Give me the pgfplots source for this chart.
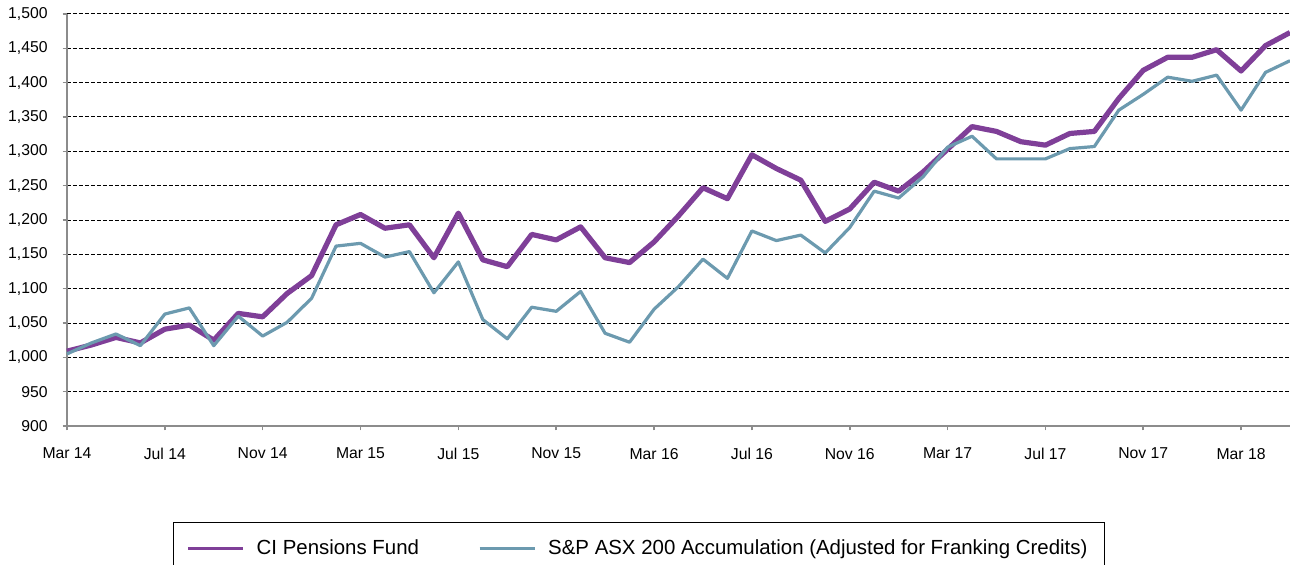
\documentclass[border=0pt]{standalone}
\usepackage{pgfplots}
\pgfplotsset{compat=1.18}
\usepackage{fontspec}
\setmainfont{Liberation Sans}
\definecolor{cipurple}{RGB}{127,63,152}
\definecolor{asxblue}{RGB}{108,154,175}
\definecolor{axisgray}{RGB}{140,140,140}
\begin{document}
\begin{tikzpicture}
\begin{axis}[
  name=ax,
  scale only axis,
  width=611.5bp, height=206bp,
  xmin=0, xmax=50, ymin=900, ymax=1500,
  axis x line*=bottom, axis y line*=left,
  axis line style={axisgray, line width=1bp},
  tick style={axisgray, line width=0.8bp},
  tick align=outside,
  major tick length=2.2bp,
  xtick={0,4,...,48},
  xticklabels={Mar 14,Jul 14,Nov 14,Mar 15,Jul 15,Nov 15,Mar 16,Jul 16,Nov 16,Mar 17,Jul 17,Nov 17,Mar 18},
  ytick={900,950,...,1500},
  /pgf/number format/assume math mode=true,
  /pgf/number format/1000 sep={,},
  yticklabel style={font=\fontsize{7.9}{9}\selectfont, xshift=-4bp},
  xticklabel style={font=\fontsize{7.9}{9}\selectfont, yshift=-5.3bp},
  ymajorgrids,
  major grid style={black, line width=0.5bp, dash pattern=on 2bp off 1bp},
  legend columns=2,
  legend style={at={(axis description cs:0.0867,-0.233)}, anchor=north west,
    draw=black, line width=0.5bp, inner xsep=6.5bp, inner ysep=6.5bp,
    font=\fontsize{10.25}{12}\selectfont,
    /tikz/every odd column/.append style={column sep=4bp},
    /tikz/every even column/.append style={column sep=27.5bp}},
  legend image code/.code={\draw[#1, line width=1.6bp] (0bp,0bp) -- (27.5bp,0bp);},
  clip=false,
]
\addplot[cipurple, line width=2.6bp, line join=round] coordinates {
(0,1009) (1,1018) (2,1029) (3,1021) (4,1041) (5,1047) (6,1025) (7,1064) (8,1059) (9,1093)
(10,1119) (11,1193) (12,1208) (13,1188) (14,1193) (15,1145) (16,1210) (17,1142) (18,1132) (19,1179)
(20,1171) (21,1190) (22,1145) (23,1138) (24,1168) (25,1206) (26,1247) (27,1231) (28,1295) (29,1275)
(30,1258) (31,1198) (32,1216) (33,1255) (34,1242) (35,1270) (36,1303) (37,1336) (38,1329) (39,1314)
(40,1309) (41,1326) (42,1329) (43,1377) (44,1418) (45,1437) (46,1437) (47,1448) (48,1417) (49,1454)
(50,1473)};
\addlegendentry{CI Pensions Fund}
\addplot[asxblue, line width=1.6bp, line join=round] coordinates {
(0,1005) (1,1021) (2,1034) (3,1017) (4,1063) (5,1072) (6,1017) (7,1060) (8,1031) (9,1051)
(10,1086) (11,1162) (12,1166) (13,1146) (14,1154) (15,1094) (16,1139) (17,1055) (18,1027) (19,1073)
(20,1067) (21,1096) (22,1035) (23,1022) (24,1070) (25,1103) (26,1143) (27,1115) (28,1184) (29,1170)
(30,1178) (31,1152) (32,1189) (33,1242) (34,1232) (35,1263) (36,1306) (37,1322) (38,1289) (39,1289)
(40,1289) (41,1304) (42,1307) (43,1360) (44,1383) (45,1408) (46,1402) (47,1411) (48,1360) (49,1415)
(50,1432)};
\addlegendentry{S\&P ASX 200 Accumulation (Adjusted for Franking Credits)}
\end{axis}
\pgfresetboundingbox
\path[use as bounding box] ([xshift=-33.5bp,yshift=-69.5bp]ax.south west) rectangle ([yshift=7bp]ax.north east);
\end{tikzpicture}
\end{document}
